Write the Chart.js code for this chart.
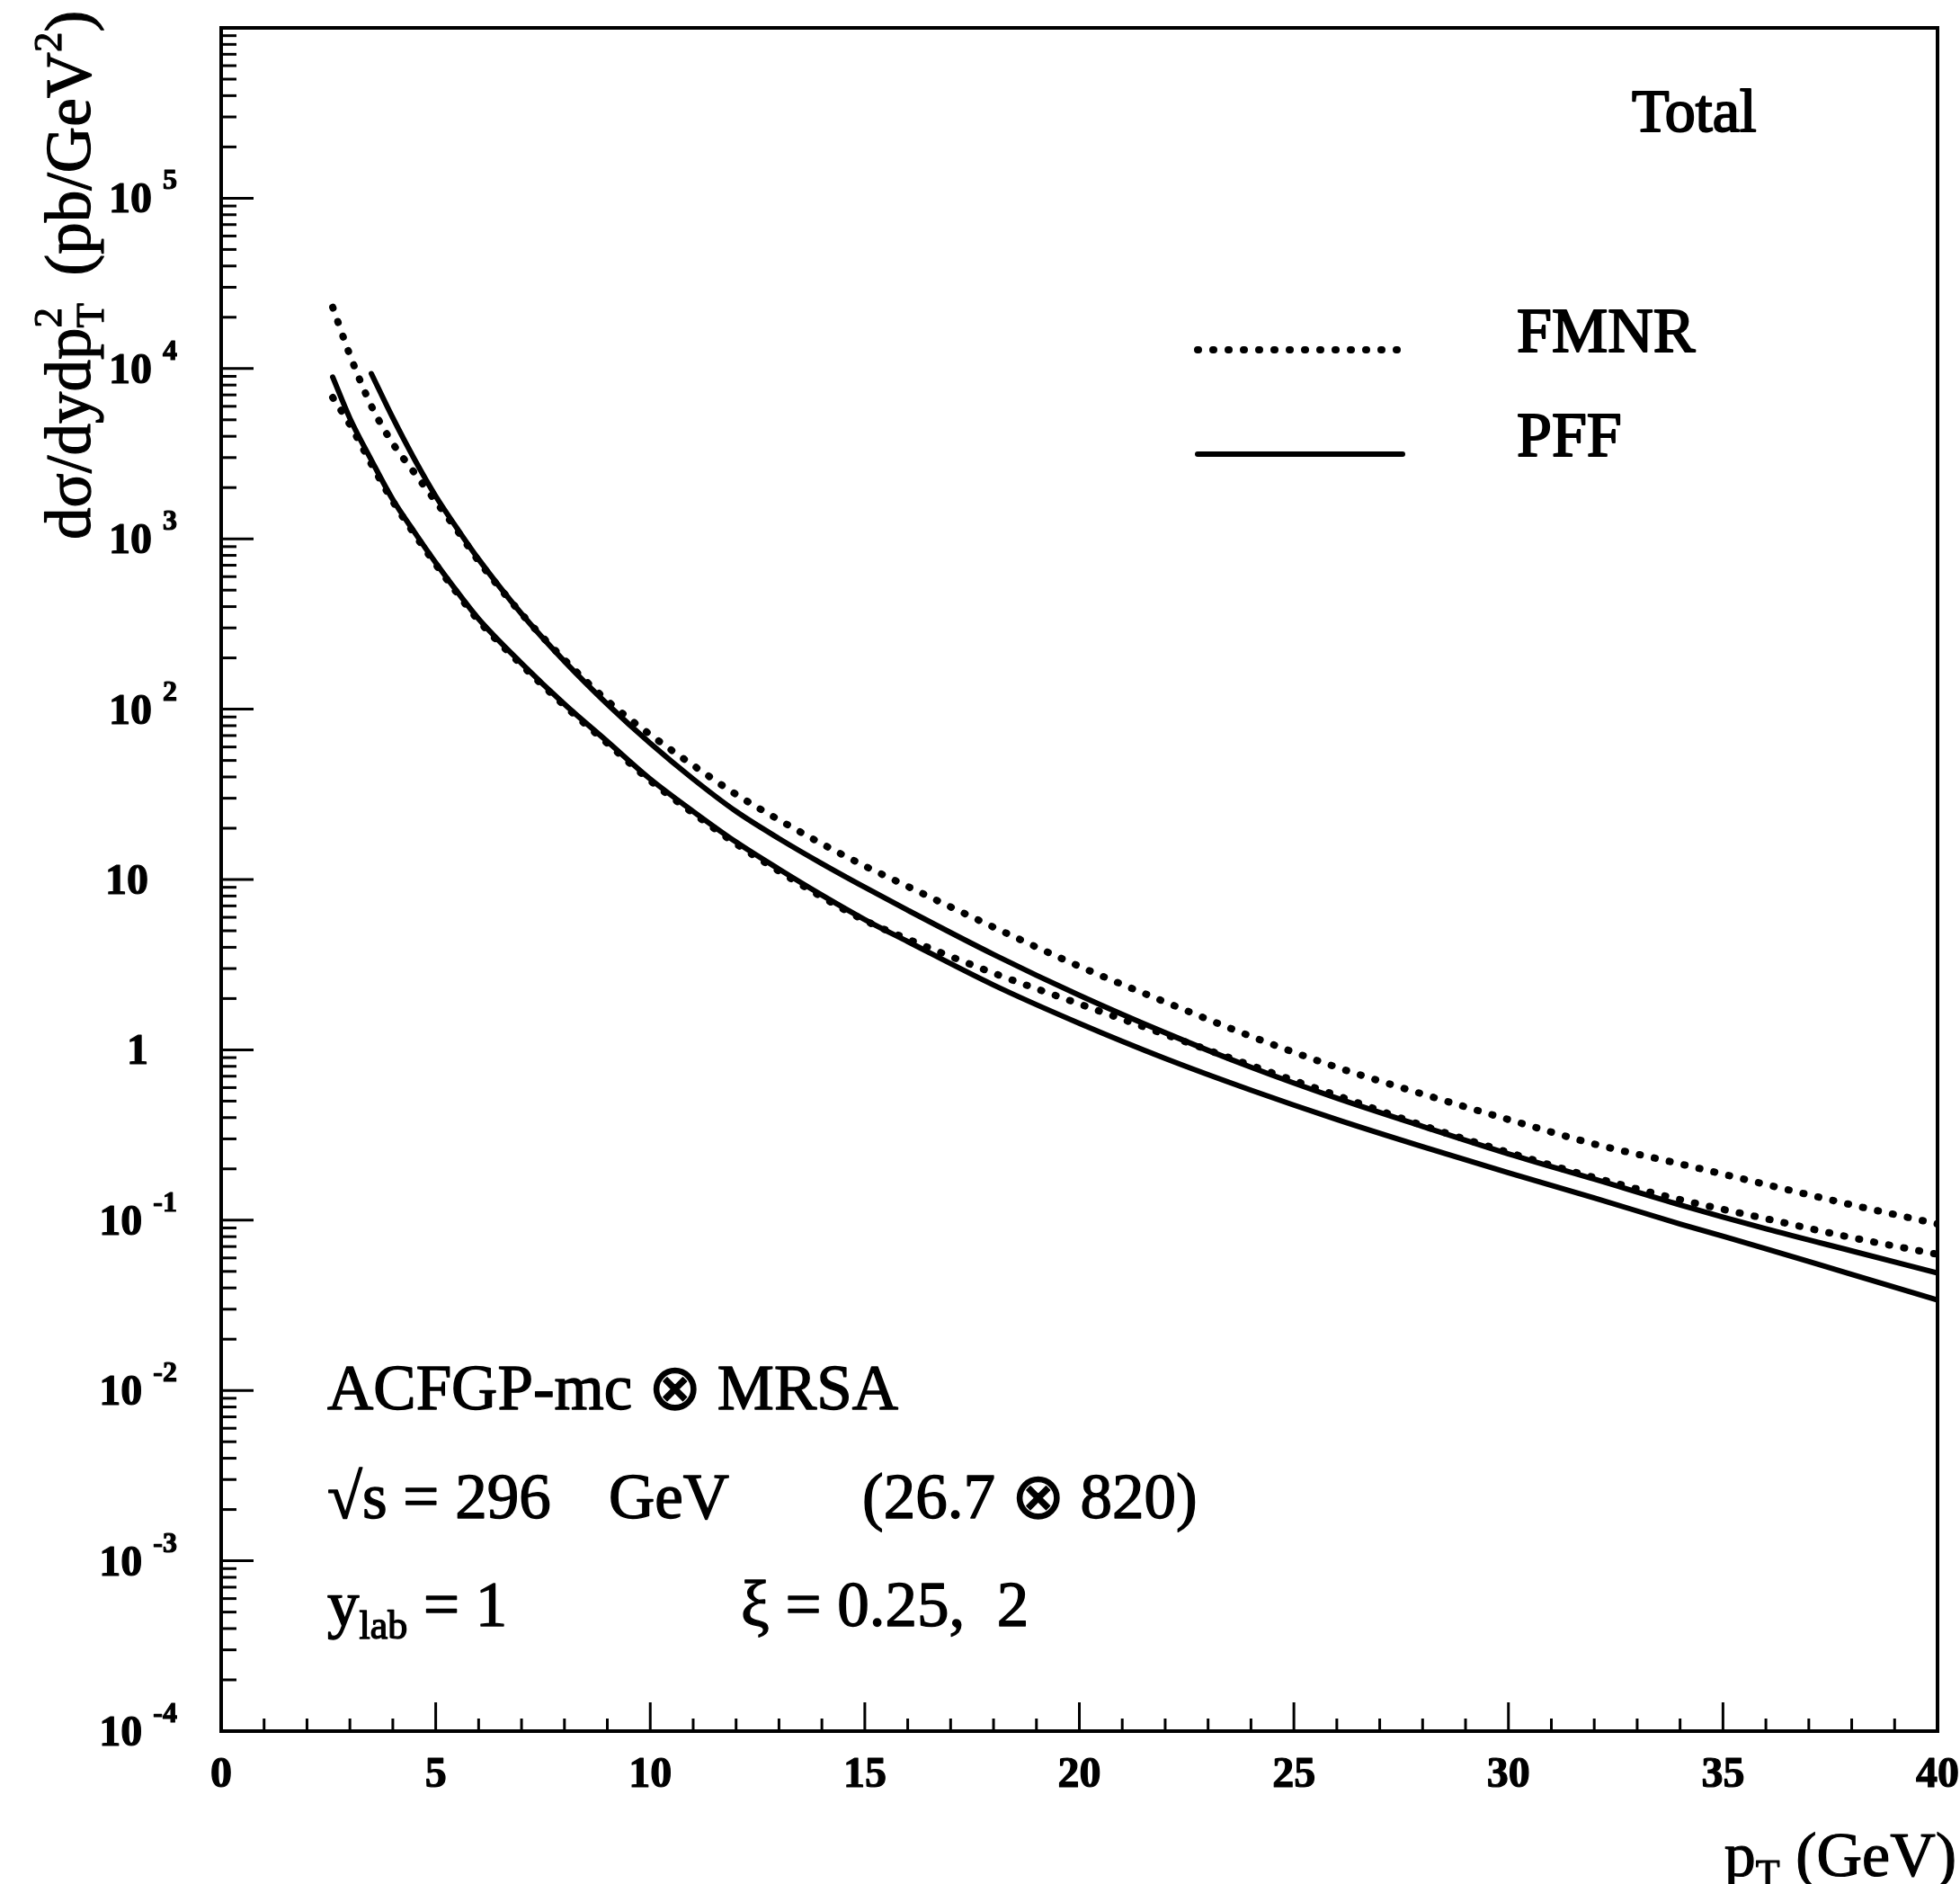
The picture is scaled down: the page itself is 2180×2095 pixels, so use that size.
<!DOCTYPE html>
<html>
<head>
<meta charset="utf-8">
<script src="https://cdn.jsdelivr.net/npm/chart.js@4.4.1/dist/chart.umd.min.js"></script>
<style>
  html, body { margin: 0; padding: 0; background: #fff; }
  canvas { display: block; }
</style>
</head>
<body>
<canvas id="chart" width="2180" height="2095" style="width:2180px;height:2095px"></canvas>
<script>
// pT (GeV) sample points
const pT = [2.6, 3, 3.5, 4, 4.5, 5, 5.5, 6, 7, 8, 9, 10, 11, 12, 13, 14, 15, 16, 18, 20, 22, 24, 26, 28, 30, 32, 34, 36, 38, 40];

// dsigma/dy dpT^2 (pb/GeV^2)
const fmnrTop = [22900, 12000, 6030, 3630, 2450, 1660, 1120, 741, 363, 195, 112, 70.8, 46.8, 31.6, 22.4, 16.2, 12.0, 9.1, 5.25, 3.09, 1.91, 1.20, 0.79, 0.55, 0.39, 0.28, 0.214, 0.162, 0.123, 0.095];
const fmnrBottom = [6760, 4680, 2750, 1660, 1070, 708, 479, 331, 182, 105, 63, 38, 24.5, 16.2, 11.2, 7.9, 5.75, 4.47, 2.82, 1.86, 1.23, 0.81, 0.54, 0.36, 0.25, 0.178, 0.132, 0.102, 0.079, 0.063];
const pffTop = [null, null, 9330, 5130, 2950, 1780, 1150, 759, 363, 191, 107, 63, 38.9, 25.1, 17.4, 12.4, 9.0, 6.6, 3.63, 2.09, 1.26, 0.79, 0.52, 0.355, 0.245, 0.174, 0.123, 0.089, 0.066, 0.049];
const pffBottom = [8900, 5100, 2900, 1700, 1100, 724, 490, 339, 186, 107, 64.6, 38.9, 25.1, 16.6, 11.5, 8.1, 5.82, 4.32, 2.40, 1.43, 0.89, 0.58, 0.39, 0.27, 0.19, 0.135, 0.095, 0.068, 0.048, 0.034];

// axis labels
const xTickLabels = [0, 5, 10, 15, 20, 25, 30, 35, 40];
const yTickExponents = [-4, -3, -2, -1, 0, 1, 2, 3, 4, 5];

const SERIF = '"Liberation Serif", "Times New Roman", serif';

const points = (vals) => pT.map((x, i) => ({x: x, y: vals[i]})).filter(p => p.y !== null);

const dotted = {borderColor: '#000', borderWidth: 8, borderDash: [1, 16], borderCapStyle: 'round', cubicInterpolationMode: 'monotone', pointRadius: 0, fill: false};
const solid = {borderColor: '#000', borderWidth: 6, borderCapStyle: 'round', cubicInterpolationMode: 'monotone', pointRadius: 0, fill: false};

// text with a light stroke, the scan makes every glyph heavy
function heavyText(ctx, s, x, y) {
    ctx.fillText(s, x, y);
    ctx.strokeText(s, x, y);
}

// draws pieces [text, size, dy, weight, noAdvance]
function drawPieces(ctx, pieces, x, y) {
    let cx = x;
    for (const p of pieces) {
        ctx.font = (p[3] || '') + ' ' + p[1] + 'px ' + SERIF;
        heavyText(ctx, p[0], cx, y + p[2]);
        if (!p[4]) cx += ctx.measureText(p[0]).width;
    }
    return cx - x;
}

function piecesWidth(ctx, pieces) {
    let w = 0;
    for (const p of pieces) {
        ctx.font = (p[3] || '') + ' ' + p[1] + 'px ' + SERIF;
        if (!p[4]) w += ctx.measureText(p[0]).width;
    }
    return w;
}

const frame = {
    id: 'frame',
    afterDraw(chart) {
        const {ctx, chartArea: a, scales: {x, y}} = chart;
        ctx.save();
        ctx.strokeStyle = '#000';
        ctx.fillStyle = '#000';
        ctx.lineCap = 'butt';

        const line = (x1, y1, x2, y2) => { ctx.beginPath(); ctx.moveTo(x1, y1); ctx.lineTo(x2, y2); ctx.stroke(); };

        // x ticks (inward)
        ctx.lineWidth = 3;
        for (let v = x.min; v <= x.max; v++) {
            const px = x.getPixelForValue(v);
            line(px, a.bottom, px, a.bottom - (v % 5 === 0 ? 32 : 14));
        }
        // y ticks (inward, log minors)
        for (let e = -4; e < 6; e++) {
            for (let m = 1; m < 10; m++) {
                const py = y.getPixelForValue(m * Math.pow(10, e));
                line(a.left, py, a.left + (m === 1 ? 36 : 17), py);
            }
        }

        // frame
        ctx.lineWidth = 4;
        ctx.strokeRect(a.left, a.top, a.right - a.left, a.bottom - a.top);

        ctx.lineWidth = 1.2;
        ctx.lineJoin = 'round';

        // x tick labels
        ctx.font = 'bold 48px ' + SERIF;
        ctx.textAlign = 'center';
        ctx.textBaseline = 'alphabetic';
        for (const v of xTickLabels) {
            heavyText(ctx, String(v), x.getPixelForValue(v), a.bottom + 62);
        }

        // y tick labels: 10 with exponent
        ctx.textAlign = 'right';
        for (const e of yTickExponents) {
            const py = y.getPixelForValue(Math.pow(10, e));
            const base = e === 0 ? '1' : '10';
            ctx.font = 'bold 48px ' + SERIF;
            if (e === 0 || e === 1) {
                heavyText(ctx, base, 165, py + 16);
            } else {
                const exp = String(e);
                ctx.font = 'bold 32px ' + SERIF;
                heavyText(ctx, exp, 197, py - 10);
                const w = ctx.measureText(exp).width;
                ctx.font = 'bold 48px ' + SERIF;
                heavyText(ctx, base, 197 - w - 12, py + 16);
            }
        }

        ctx.textAlign = 'left';

        // y axis title (rotated)
        ctx.save();
        ctx.translate(100, 600);
        ctx.rotate(-Math.PI / 2);
        drawPieces(ctx, [
            ['d\u03c3/dydp', 71, 0],
            ['T', 45, 15, '', true],
            ['2', 45, -32],
            ['  (pb/GeV', 71, 0],
            ['2', 45, -32],
            [')', 71, 0]
        ], 0, 0);
        ctx.restore();

        // x axis title
        const xTitle = [['p', 70, 0], ['T', 44, 12], [' (GeV)', 70, 0]];
        drawPieces(ctx, xTitle, 2176 - piecesWidth(ctx, xTitle), 2086);

        // top right label and legend, a bit heavier
        ctx.lineWidth = 2;
        ctx.font = '68px ' + SERIF;
        heavyText(ctx, 'Total', 1815, 146);

        // legend, using the dataset styles
        const ds = chart.data.datasets;
        const legendRows = [[ds[0], 'FMNR', 391], [ds[2], 'PFF', 507]];
        for (const [d, label, by] of legendRows) {
            ctx.save();
            ctx.lineWidth = d.borderWidth;
            ctx.lineCap = d.borderCapStyle;
            ctx.setLineDash(d.borderDash || []);
            line(1332, by - 2, 1560, by - 2);
            ctx.restore();
            ctx.font = '70px ' + SERIF;
            heavyText(ctx, label, 1687, by);
        }

        // annotations
        ctx.lineWidth = 1.4;
        ctx.font = '71px ' + SERIF;
        heavyText(ctx, 'ACFGP-mc \u2297 MRSA', 364, 1567);
        heavyText(ctx, '\u221as = 296', 364, 1688);
        heavyText(ctx, 'GeV', 677, 1688);
        heavyText(ctx, '(26.7 \u2297 820)', 959, 1688);
        drawPieces(ctx, [['y', 71, 0], ['lab', 44, 14], [' = 1', 71, 0]], 364, 1808);
        ctx.font = '71px ' + SERIF;
        heavyText(ctx, '\u03be = 0.25,  2', 824, 1808);

        ctx.restore();
    }
};

new Chart(document.getElementById('chart'), {
    type: 'line',
    data: {
        datasets: [
            Object.assign({label: 'FMNR', data: points(fmnrTop)}, dotted),
            Object.assign({label: 'FMNR', data: points(fmnrBottom)}, dotted),
            Object.assign({label: 'PFF', data: points(pffTop)}, solid),
            Object.assign({label: 'PFF', data: points(pffBottom)}, solid)
        ]
    },
    options: {
        responsive: false,
        animation: false,
        devicePixelRatio: 1,
        layout: {padding: {left: 246, right: 25, top: 31, bottom: 170}},
        plugins: {legend: {display: false}, tooltip: {enabled: false}},
        scales: {
            x: {type: 'linear', min: 0, max: 40, display: false},
            y: {type: 'logarithmic', min: 1e-4, max: 1e6, display: false}
        }
    },
    plugins: [frame]
});
</script>
</body>
</html>
